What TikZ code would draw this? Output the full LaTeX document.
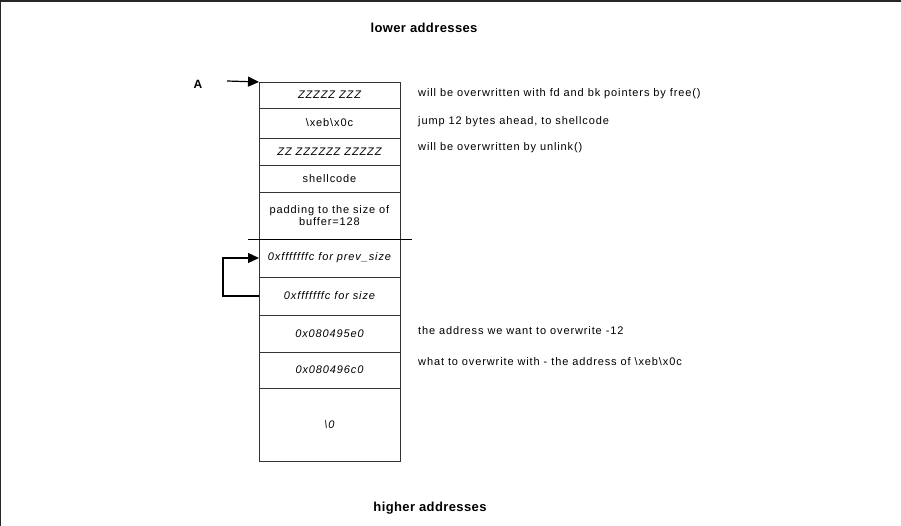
\documentclass[tikz,border=0pt]{standalone}
\usepackage{fontspec}
\setmainfont{Liberation Sans}
\newfontfamily\spacedfont[LetterSpace=8]{Liberation Sans}
\newfontfamily\headfont[LetterSpace=3]{Liberation Sans}
\usepackage{tikz}
\usetikzlibrary{arrows.meta,positioning}

\tikzset{
	cell/.style={draw=black!80,line width=0.8pt,minimum width=141pt,minimum height=#1,
		inner sep=0pt,outer sep=0pt,font=\spacedfont\fontsize{11}{12.5}\selectfont},
	note/.style={anchor=west,inner sep=0pt,font=\spacedfont\fontsize{11}{12.5}\selectfont},
	heading/.style={inner sep=0pt,font=\headfont\fontsize{13}{15}\selectfont\bfseries},
	pointer/.style={-{Triangle[length=11pt,width=10pt]},line width=1.2pt}
}

\begin{document}
\begin{tikzpicture}[x=1pt,y=-1pt]
		\useasboundingbox (0,0) rectangle (901,526);
		\draw[line width=2pt,black!85] (0,526) -- (0,1) -- (901,1);

		\node[heading] (low) at (424,28) {lower addresses};
		\node[heading] (high) at (430,508) {higher addresses};

		% the chunk
		\begin{scope}[every node/.style={cell=30pt}]
			\node[cell=26pt] (zz1) at (329.5,95) {\itshape ZZZZZ ZZZ};
			\node[cell=30pt,below=0pt of zz1] (jmp) {\textbackslash xeb\textbackslash x0c};
			\node[cell=27pt,below=0pt of jmp] (zz2) {\itshape ZZ ZZZZZZ ZZZZZ};
			\node[cell=27pt,below=0pt of zz2] (shell) {shellcode};
			\node[cell=47pt,below=0pt of shell,align=center] (pad) {padding to the size of\\buffer=128};
			\node[cell=38pt,below=0pt of pad] (prev) {\itshape 0xfffffffc for prev\_size};
			\node[cell=38pt,below=0pt of prev] (size) {\itshape 0xfffffffc for size};
			\node[cell=37pt,below=0pt of size] (fd) {\itshape 0x080495e0};
			\node[cell=36pt,below=0pt of fd] (bk) {\itshape 0x080496c0};
			\node[cell=73pt,below=0pt of bk] (nul) {\itshape \textbackslash 0};
		\end{scope}

		\draw[line width=0.8pt] ([xshift=-11pt]pad.south west) -- ([xshift=12pt]pad.south east);

		\node[note] (n1) at (418,94) {will be overwritten with fd and bk pointers by free()};
		\node[note] (n2) at (418,122) {jump 12 bytes ahead, to shellcode};
		\node[note] (n3) at (418,148) {will be overwritten by unlink()};
		\node[note] (n4) at (418,331) {the address we want to overwrite -12};
		\node[note] (n5) at (418,362) {what to overwrite with - the address of \textbackslash xeb\textbackslash x0c};

		\node[font=\fontsize{12}{14}\selectfont\bfseries] (A) at (198,84) {A};
		\coordinate (astart) at (227,81);

		\draw[pointer] (astart) -- (zz1.north west);
		\draw[pointer] (size.west) -- ++(-36,0) |- (prev.west);
		\end{tikzpicture}
\end{document}
